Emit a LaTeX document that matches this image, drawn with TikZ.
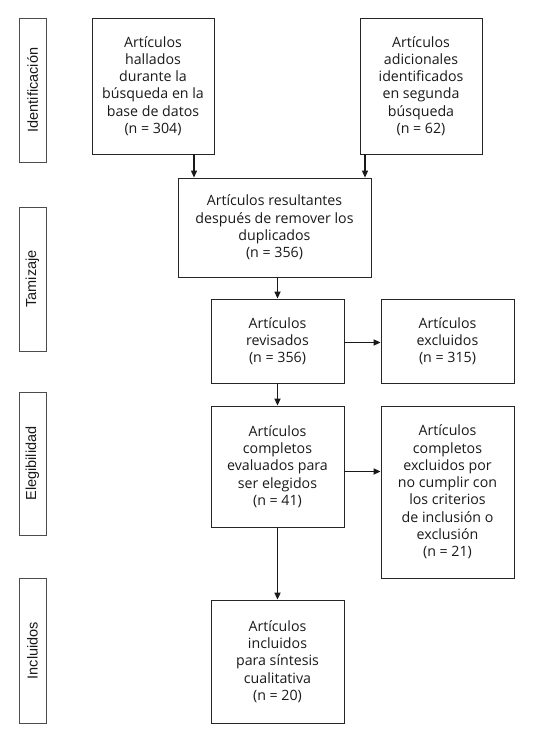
\documentclass[tikz,border=0pt]{standalone}
\usepackage{fontspec}
\setmainfont{Open Sans}
\newfontfamily\sidefont{Liberation Sans}
\usetikzlibrary{arrows.meta,calc}
\begin{document}
\begin{tikzpicture}[x=1pt,y=-1pt,
  box/.style={draw=black!85,line width=0.8pt,inner sep=0pt,align=center,
    font=\fontsize{14.2}{17.3}\selectfont,text=black!90},
  side/.style={draw=black!70,line width=0.8pt,inner sep=0pt,minimum width=27pt},
  sidetext/.style={rotate=90,inner sep=0pt,font=\sidefont\fontsize{14.5}{16}\selectfont,text=black!90},
  arr/.style={draw=black!90,line width=1.6pt,-{Triangle[length=7pt,width=6pt]}},
  arrthin/.style={draw=black!90,line width=1.1pt,-{Triangle[length=7pt,width=6pt]}}]
\useasboundingbox (0,0) rectangle (534,735);
% side labels
\node[side,minimum height=144pt] (sI) at (32.5,90) {};
\node[sidetext] (tI) at (sI.center) {Identificación};
\node[side,minimum height=144pt] (sT) at (32.5,279) {};
\node[sidetext] (tT) at (sT.center) {Tamizaje};
\node[side,minimum height=143pt] (sE) at (32.5,463.5) {};
\node[sidetext] (tE) at (sE.center) {Elegibilidad};
\node[side,minimum height=145pt] (sN) at (32.5,650.5) {};
\node[sidetext] (tN) at (sN.center) {Incluidos};
% boxes
\node[box,minimum width=122pt,minimum height=136pt] (b1) at (153,86)
  {Artículos\\hallados\\durante la\\búsqueda en la\\base de datos\\(n = 304)};
\node[box,minimum width=122pt,minimum height=136pt] (b2) at (421,86)
  {Artículos\\adicionales\\identificados\\en segunda\\búsqueda\\(n = 62)};
\node[box,minimum width=193pt,minimum height=99pt] (res) at (274.5,227.5)
  {Artículos resultantes\\después de remover los\\duplicados\\(n = 356)};
\node[box,minimum width=133pt,minimum height=84pt] (rev) at (277.5,341)
  {Artículos\\revisados\\(n = 356)};
\node[box,minimum width=133pt,minimum height=84pt] (exc) at (447.5,341)
  {Artículos\\excluidos\\(n = 315)};
\node[box,minimum width=133pt,minimum height=121pt] (eva) at (277.5,466.5)
  {Artículos\\completos\\evaluados para\\ser elegidos\\(n = 41)};
\node[box,minimum width=133pt,minimum height=172pt] (exc2) at (447.5,492)
  {Artículos\\completos\\excluidos por\\no cumplir con\\los criterios\\de inclusión o\\exclusión\\(n = 21)};
\node[box,minimum width=133pt,minimum height=123pt] (inc) at (277.5,661.5)
  {Artículos\\incluidos\\para síntesis\\cualitativa\\(n = 20)};
% connectors
\draw[arrthin] ([xshift=41pt]b1.south) -- ([xshift=41pt]b1.south |- res.north);
\draw[arrthin] ([xshift=-56pt]b2.south) -- ([xshift=-56pt]b2.south |- res.north);
\draw[arr] (rev.north |- res.south) -- (rev.north);
\draw[arr] (rev.south) -- (eva.north);
\draw[arr] (eva.south) -- (inc.north);
\draw[arr] ([yshift=-1.5pt]rev.east) -- ([yshift=-1.5pt]rev.east -| exc.west);
\draw[arr] ([yshift=-5pt]eva.east) -- ([yshift=-5pt]eva.east -| exc2.west);
\end{tikzpicture}
\end{document}
